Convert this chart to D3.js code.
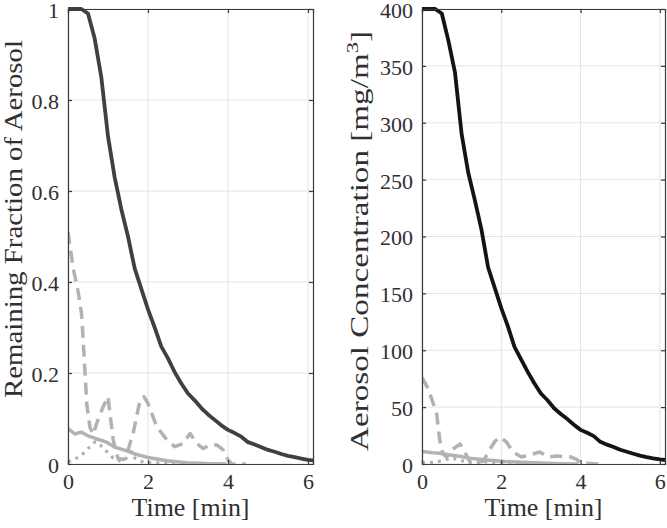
<!DOCTYPE html>
<html><head><meta charset="utf-8">
<script src="https://cdn.jsdelivr.net/npm/d3@7"></script>
<style>
html,body{margin:0;padding:0;background:#fff;}
svg{display:block;}
</style></head>
<body><svg id="c" width="667" height="528" font-family="Liberation Serif"></svg>
<script>
// ---------- data ----------
const tDark = [0,0.167,0.333,0.5,0.667,0.833,1.0,1.167,1.333,1.5,1.667,1.833,2.0,2.167,2.333,2.5,2.667,2.833,3.0,3.167,3.333,3.5,3.667,3.833,4.0,4.167,4.333,4.5,4.667,4.833,5.0,5.167,5.333,5.5,5.667,5.833,6.0,6.13];
const fracDark = [1,1,1,0.99,0.935,0.85,0.72,0.63,0.56,0.5,0.43,0.385,0.34,0.30,0.258,0.232,0.202,0.177,0.155,0.14,0.123,0.109,0.097,0.085,0.075,0.068,0.06,0.048,0.043,0.037,0.031,0.027,0.022,0.018,0.015,0.012,0.009,0.008];
const concDark = [400,400,400,396,372,344,290,256,232,206,173,155,137,121,103,92,81,71,62,56,49,44,39.5,34.5,30,27.5,24.5,19.5,17,15,12.5,10.8,9,7.3,6,4.9,4,3.5];

const tFracDash = [0,0.13,0.25,0.34,0.42,0.47,0.55,0.63,0.72,0.88,1.0,1.05,1.13,1.25,1.4,1.5,1.63,1.8,1.9,2.0,2.22,2.47,2.67,2.88,3.05,3.22,3.38,3.55,3.72,3.88,4.0,4.1,4.45];
const fracDash = [0.51,0.43,0.38,0.33,0.21,0.13,0.08,0.065,0.09,0.126,0.148,0.11,0.053,0.012,0.01,0.03,0.068,0.14,0.148,0.133,0.082,0.053,0.038,0.045,0.067,0.045,0.034,0.042,0.042,0.031,0.009,0,0];

const tFracSolid = [0,0.17,0.33,0.5,0.72,0.97,1.17,1.47,1.67,1.97,2.47,2.97,3.47,3.97];
const fracSolid = [0.078,0.066,0.07,0.062,0.055,0.048,0.037,0.029,0.022,0.015,0.007,0.003,0.001,0];

const tFracDot = [0,0.3,0.55,0.68,0.8,0.97,1.13,1.34,1.51,1.59,1.67,1.9,2.5,3.0,3.5,3.8];
const fracDot = [0.005,0.016,0.038,0.049,0.042,0.027,0.013,0.005,0.016,0.027,0.013,0.003,0.002,0.001,0.001,0];

const tConcDash = [0,0.16,0.37,0.45,0.53,0.62,0.78,0.96,1.08,1.21,1.4,1.55,1.67,1.84,1.97,2.13,2.3,2.51,2.8,2.97,3.18,3.4,3.75,3.9,4.0,4.45];
const concDash = [76,66,44,20.5,8.8,6,13,17.6,10.5,1.8,1.5,2.6,10.5,20,23.7,19.3,10.5,6.2,8.8,10.5,6.2,7,6.2,4,1,0];

const tConcSolid = [0,0.25,0.45,0.7,1.0,1.2,1.5,2.0,2.5,3.0,3.5,3.95];
const concSolid = [11,10,9.5,8,6.5,5,4,2.5,1.5,0.8,0.3,0];

const tConcDot = [0,0.3,0.55,0.7,0.85,1.0,1.2,1.35,1.55,1.7,2.0,3.0,3.8];
const concDot = [1,1.5,3,5,4.5,3,1,0.5,2.5,1,0.3,0.2,0];

const xTicks = [0,2,4,6];
const fracTicks = [0,0.2,0.4,0.6,0.8,1];
const concTicks = [0,50,100,150,200,250,300,350,400];
const xLabel = "Time [min]";
const fracLabel = "Remaining Fraction of Aerosol";
const concLabel = "Aerosol Concentration [mg/m";

// ---------- drawing ----------
const svg = d3.select("#c");
const axisCol = "#3a3a3a", gridCol = "#e3e3e3", textCol = "#303030";
const grayCol = "#b2b2b2";
const FONT = "Liberation Serif";

function panel(opt){
  const {x0,x1,y0,y1,xmax,ymax,yTicks,yFmt,series,id} = opt;
  const x = d3.scaleLinear().domain([0,xmax]).range([x0,x1]);
  const y = d3.scaleLinear().domain([0,ymax]).range([y1,y0]);
  const g = svg.append("g");
  g.append("g").selectAll("line").data(xTicks).join("line")
    .attr("x1",d=>x(d)).attr("x2",d=>x(d)).attr("y1",y0).attr("y2",y1)
    .attr("stroke",gridCol).attr("stroke-width",1);
  g.append("g").selectAll("line").data(yTicks).join("line")
    .attr("x1",x0).attr("x2",x1).attr("y1",d=>y(d)).attr("y2",d=>y(d))
    .attr("stroke",gridCol).attr("stroke-width",1);
  svg.append("clipPath").attr("id",id).append("rect")
    .attr("x",x0).attr("y",y0-3).attr("width",x1-x0).attr("height",y1-y0+3);
  const lg = g.append("g").attr("clip-path",`url(#${id})`);
  const line = d3.line().x(d=>x(d[0])).y(d=>y(d[1]));
  series.forEach(s=>{
    lg.append("path").datum(s.t.map((t,i)=>[t,s.v[i]]))
      .attr("d",line).attr("fill","none")
      .attr("stroke",s.color).attr("stroke-width",s.w)
      .attr("stroke-dasharray",s.dash||null)
      .attr("stroke-linejoin","round").attr("stroke-linecap","butt");
  });
  const ax = g.append("g");
  const bottom = ax.append("g").attr("transform",`translate(0,${y1})`)
    .call(d3.axisBottom(x).tickValues(xTicks).tickSize(-4).tickPadding(9).tickFormat(d3.format("d")));
  ax.append("g").attr("transform",`translate(0,${y0})`)
    .call(d3.axisTop(x).tickValues(xTicks).tickSize(-4).tickFormat(""));
  const left = ax.append("g").attr("transform",`translate(${x0},0)`)
    .call(d3.axisLeft(y).tickValues(yTicks).tickSize(-4).tickPadding(9).tickFormat(yFmt));
  ax.append("g").attr("transform",`translate(${x1},0)`)
    .call(d3.axisRight(y).tickValues(yTicks).tickSize(-4).tickFormat(""));
  ax.selectAll("path.domain").attr("stroke",axisCol).attr("stroke-width",1.2);
  ax.selectAll(".tick line").attr("stroke",axisCol).attr("stroke-width",1.2);
  ax.selectAll("g").attr("font-family",FONT).attr("font-size",22);
  ax.selectAll(".tick text").attr("fill",textCol).attr("font-family",FONT).attr("font-size",22);
  bottom.selectAll(".tick text").attr("dy","0.71em");
  left.selectAll(".tick text").attr("dy","0.38em");
  return {x,y};
}

panel({id:"clipL",x0:68,x1:313,y0:9,y1:464,xmax:6.125,ymax:1,yTicks:fracTicks,
  yFmt:d=>d===0||d===1?String(d):d3.format(".1f")(d),
  series:[
    {t:tFracDot,v:fracDot,color:grayCol,w:3.2,dash:"3,5"},
    {t:tFracSolid,v:fracSolid,color:grayCol,w:3.5},
    {t:tFracDash,v:fracDash,color:grayCol,w:3.5,dash:"12,7"},
    {t:tDark,v:fracDark,color:"#404040",w:3.8}
  ]});

panel({id:"clipR",x0:422,x1:665,y0:9,y1:464,xmax:6.13,ymax:400,yTicks:concTicks,
  yFmt:d3.format("d"),
  series:[
    {t:tConcDot,v:concDot,color:grayCol,w:3.2,dash:"3,5"},
    {t:tConcSolid,v:concSolid,color:grayCol,w:3.5},
    {t:tConcDash,v:concDash,color:grayCol,w:3.5,dash:"12,7"},
    {t:tDark,v:concDark,color:"#141414",w:3.8}
  ]});

function xlab(cx){
  svg.append("text").attr("x",cx).attr("y",516).attr("text-anchor","middle")
    .attr("fill",textCol).attr("font-size",25).attr("font-family",FONT)
    .attr("textLength",118).attr("lengthAdjust","spacingAndGlyphs").text(xLabel);
}
xlab(190.5); xlab(543.5);

svg.append("text").attr("transform","translate(22,219) rotate(-90)")
  .attr("text-anchor","middle").attr("fill",textCol).attr("font-size",25).attr("font-family",FONT)
  .attr("textLength",358).attr("lengthAdjust","spacingAndGlyphs").text(fracLabel);

const rl = svg.append("text").attr("transform","translate(368,241) rotate(-90)")
  .attr("text-anchor","middle").attr("fill",textCol).attr("font-size",25).attr("font-family",FONT)
  .attr("textLength",420).attr("lengthAdjust","spacingAndGlyphs");
rl.append("tspan").text(concLabel);
rl.append("tspan").attr("dy",-10).attr("font-size",17).text("3");
rl.append("tspan").attr("dy",10).text("]");
</script>
</body></html>
